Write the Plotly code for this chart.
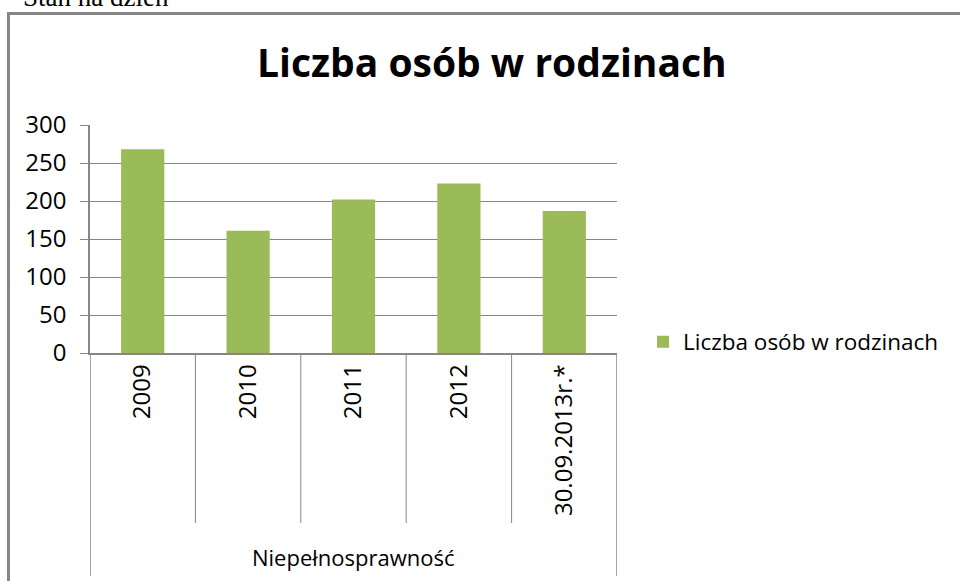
import plotly.graph_objects as go

categories = ["2009", "2010", "2011", "2012", "30.09.2013r.*"]
values = [268, 161, 202, 223, 187]
series_name = "Liczba osób w rodzinach"
title_text = "Liczba osób w rodzinach"
group_label = "Niepełnosprawność"
top_note = "Stan na dzień"
y_ticks = [0, 50, 100, 150, 200, 250, 300]

W, H = 960, 581
OFF = 0  # page body margin removed via post_script
# desired page-pixel positions of plot area
PL, PR, PT, PB = 90, 617, 125, 353
L = PL - OFF
T = PT - OFF
R = W - (PR - OFF)
B = H - (PB - OFF)
pw, ph = W - L - R, H - T - B

def px(xp):
    return (xp - OFF - L) / pw

def py(yp):
    return (H - B - (yp - OFF)) / ph

FONT = "Open Sans"
GRAY = "#868686"
GREEN = "#9BBB59"

fig = go.Figure()
fig.add_trace(go.Bar(x=categories, y=values, name=series_name,
                     marker=dict(color=GREEN, line=dict(width=0)),
                     width=0.41))

shapes = []
# frame
shapes.append(dict(type="rect", xref="paper", yref="paper",
                   x0=px(8.5), x1=px(1000), y0=py(700), y1=py(13.5),
                   line=dict(color=GRAY, width=3), layer="below"))
# category dividers
for i in range(len(categories) - 1):
    shapes.append(dict(type="line", xref="x", yref="paper",
                       x0=i + 0.5, x1=i + 0.5, y0=0, y1=py(523),
                       line=dict(color=GRAY, width=1)))
# outer group lines
for xv in [-0.5, len(categories) - 0.5]:
    shapes.append(dict(type="line", xref="x", yref="paper",
                       x0=xv, x1=xv, y0=0, y1=py(576),
                       line=dict(color=GRAY, width=1.5)))

annotations = [
    dict(text=title_text, xref="paper", yref="paper", x=px(492), y=py(62),
         xanchor="center", yanchor="middle", showarrow=False,
         font=dict(family=FONT, size=39, color="black", weight="bold")),
    dict(text=group_label, xref="paper", yref="paper", x=px(353), y=py(557),
         xanchor="center", yanchor="middle", showarrow=False,
         font=dict(family=FONT, size=22, color="black")),
    dict(text=top_note, xref="paper", yref="paper", x=px(21), y=py(14),
         xanchor="left", yanchor="bottom", showarrow=False,
         font=dict(family="Liberation Serif", size=27, color="black")),
]

fig.update_layout(
    width=W, height=H,
    margin=dict(l=L, r=R, t=T, b=B, pad=0),
    paper_bgcolor="white", plot_bgcolor="white",
    font=dict(family=FONT, color="black"),
    showlegend=True,
    legend=dict(x=px(643), y=py(342), xanchor="left", yanchor="middle",
                font=dict(family=FONT, size=22.5, color="black"),
                bgcolor="rgba(0,0,0,0)", itemwidth=30),
    shapes=shapes,
    annotations=annotations,
    bargap=0.59,
)
fig.update_xaxes(type="category", range=[-0.5, len(categories) - 0.5],
                 showgrid=False, showline=True, linecolor=GRAY, linewidth=1.5,
                 ticks="", tickangle=-90, ticklabelstandoff=0,
                 tickfont=dict(family=FONT, size=24, color="black"),
                 fixedrange=True)
fig.update_yaxes(range=[0, 300], tickvals=y_ticks,
                 showgrid=True, gridcolor=GRAY, gridwidth=1,
                 showline=True, linecolor=GRAY, linewidth=1.5,
                 ticks="outside", ticklen=8, tickcolor=GRAY,
                 ticklabelstandoff=9,
                 tickfont=dict(family=FONT, size=24, color="black"),
                 zeroline=False, fixedrange=True)

fig.write_html("out.html",
               config={"displayModeBar": False},
               post_script="document.body.style.margin='0';document.body.style.overflow='hidden';")
